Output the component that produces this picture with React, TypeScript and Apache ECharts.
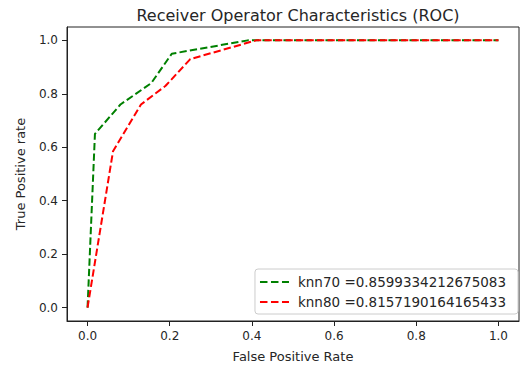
import React, { useEffect, useRef } from "react";
import * as echarts from "echarts";

const title = "Receiver Operator Characteristics (ROC)";
const xName = "False Positive Rate";
const yName = "True Positive rate";
const tickValues = [0, 0.2, 0.4, 0.6, 0.8, 1.0];

const knn70Name = "knn70 =0.8599334212675083";
const knn70Fpr = [0, 0.018, 0.08, 0.155, 0.205, 0.39, 1.0];
const knn70Tpr = [0, 0.65, 0.76, 0.84, 0.95, 1.0, 1.0];

const knn80Name = "knn80 =0.8157190164165433";
const knn80Fpr = [0, 0.062, 0.13, 0.19, 0.25, 0.41, 1.0];
const knn80Tpr = [0, 0.585, 0.76, 0.83, 0.93, 1.0, 1.0];

const FONT = "DejaVu Sans";
const TXT = "#262626";
const DASH_ICON = "path://M0,0h7.5v2h-7.5z M11,0h7.5v2h-7.5z M22,0h7v2h-7z";

export default function App() {
  const ref = useRef<HTMLDivElement>(null);
  useEffect(() => {
    if (!ref.current) return;
    const chart = echarts.init(ref.current, null, { renderer: "svg" });
    const axisCommon = {
      type: "value" as const,
      min: -0.05,
      max: 1.05,
      nameLocation: "middle" as const,
      nameTextStyle: { fontFamily: FONT, fontSize: 13, color: TXT },
      axisLine: { show: true, onZero: false, lineStyle: { color: "#222", width: 1 } },
      axisTick: { show: true, inside: false, length: 5, lineStyle: { color: "#222" }, customValues: tickValues },
      axisLabel: {
        fontFamily: FONT,
        fontSize: 12,
        color: TXT,
        customValues: tickValues,
        formatter: (v: number) => v.toFixed(1),
      },
      splitLine: { show: false },
    };
    chart.setOption({
      animation: false,
      backgroundColor: "#fff",
      title: {
        text: title,
        left: 293,
        textAlign: "center",
        top: 2,
        textStyle: { fontFamily: FONT, fontSize: 16, fontWeight: "normal", color: TXT },
      },
      grid: {
        left: 67,
        right: 5,
        top: 27,
        bottom: 48,
        show: true,
        borderColor: "#222",
        borderWidth: 1,
        backgroundColor: "#fff",
      },
      xAxis: { ...axisCommon, name: xName, nameGap: 29, axisLabel: { ...axisCommon.axisLabel, margin: 9 } },
      yAxis: { ...axisCommon, name: yName, nameGap: 40, axisLabel: { ...axisCommon.axisLabel, margin: 9 } },
      legend: {
        orient: "vertical",
        right: 6,
        bottom: 55,
        padding: [6, 12, 5, 5],
        itemGap: 6,
        itemWidth: 29,
        itemHeight: 14,
        icon: DASH_ICON,
        borderColor: "#ccc",
        borderWidth: 1,
        borderRadius: 3,
        backgroundColor: "rgba(255,255,255,0.8)",
        textStyle: { fontFamily: FONT, fontSize: 13.5, color: TXT, padding: [0, 0, 0, 4] },
        data: [knn70Name, knn80Name],
      },
      series: [
        {
          name: knn70Name,
          type: "line",
          symbol: "none",
          data: knn70Fpr.map((x, i) => [x, knn70Tpr[i]]),
          color: "#008000",
          lineStyle: { color: "#008000", width: 2, type: [7.3, 3.2] },
        },
        {
          name: knn80Name,
          type: "line",
          symbol: "none",
          data: knn80Fpr.map((x, i) => [x, knn80Tpr[i]]),
          color: "#ff0000",
          lineStyle: { color: "#ff0000", width: 2, type: [7.3, 3.2] },
        },
      ],
    });
    return () => chart.dispose();
  }, []);
  return <div ref={ref} style={{ width: 524, height: 369, position: "absolute", left: 0, top: 0 }} />;
}
